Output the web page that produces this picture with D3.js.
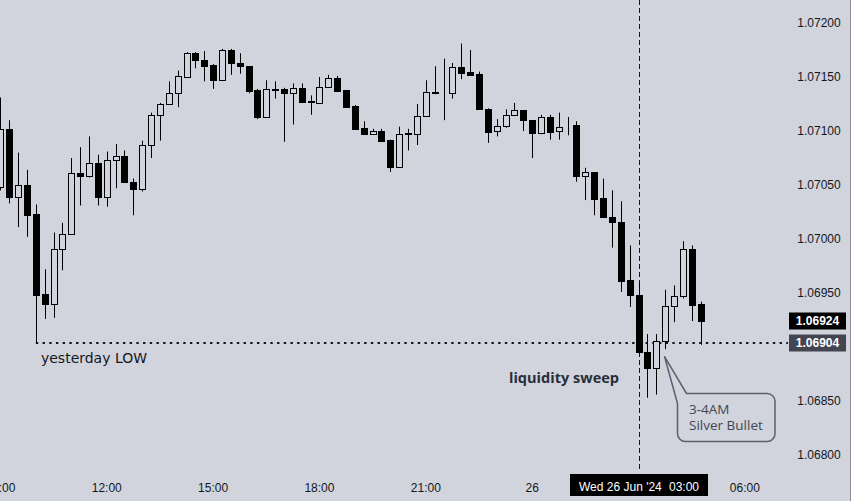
<!DOCTYPE html>
<html>
<head>
<meta charset="utf-8">
<script src="https://cdn.jsdelivr.net/npm/d3@7/dist/d3.min.js"></script>
<style>
  html, body { margin: 0; padding: 0; background: #d1d4dc; }
  svg { display: block; }
</style>
</head>
<body>
<svg id="chart" width="851" height="501"></svg>
<script>
// ---------------- DATA ----------------
// 15-minute EURUSD candles, Tue 25 Jun 2024 09:00 -> Wed 26 Jun 2024 04:45
const startTime = "2024-06-25T09:00:00Z";
const open = [
  1.07048,1.07102,1.07039,1.07050,1.07023,1.06949,1.06940,1.06991,1.07005,1.07061,
  1.07058,1.07070,1.07039,1.07073,1.07077,1.07053,1.07046,1.07087,1.07115,1.07125,
  1.07135,1.07150,1.07172,1.07166,1.07161,1.07147,1.07175,1.07163,1.07160,1.07138,
  1.07113,1.07139,1.07139,1.07135,1.07140,1.07128,1.07126,1.07141,1.07149,1.07138,
  1.07123,1.07103,1.07097,1.07100,1.07092,1.07067,1.07097,1.07097,1.07114,1.07136,
  1.07135,1.07135,1.07159,1.07155,1.07153,1.07120,1.07100,1.07105,1.07115,1.07119,
  1.07110,1.07098,1.07113,1.07100,1.07105,1.07106,1.07058,1.07062,1.07038,1.07020,
  1.07016,1.06962,1.06948,1.06895,1.06881,1.06906,1.06938,1.06947,1.06991,1.06940
];
const high = [
  1.07131,1.07110,1.07080,1.07064,1.07032,1.06972,1.07006,1.07015,1.07075,1.07085,
  1.07095,1.07078,1.07081,1.07088,1.07082,1.07056,1.07091,1.07117,1.07126,1.07146,
  1.07156,1.07173,1.07173,1.07174,1.07162,1.07176,1.07176,1.07172,1.07160,1.07139,
  1.07147,1.07146,1.07140,1.07144,1.07144,1.07133,1.07150,1.07152,1.07151,1.07138,
  1.07124,1.07109,1.07102,1.07102,1.07092,1.07104,1.07102,1.07125,1.07147,1.07160,
  1.07167,1.07163,1.07181,1.07175,1.07155,1.07121,1.07111,1.07120,1.07126,1.07119,
  1.07110,1.07115,1.07115,1.07117,1.07113,1.07109,1.07066,1.07062,1.07056,1.07045,
  1.07035,1.06994,1.06960,1.06912,1.06912,1.06953,1.06957,1.06998,1.06994,1.06942
];
const low = [
  1.07045,1.07033,1.07011,1.07002,1.06904,1.06926,1.06927,1.06971,1.07005,1.07031,
  1.07057,1.07031,1.07030,1.07047,1.07052,1.07022,1.07044,1.07075,1.07091,1.07125,
  1.07122,1.07149,1.07158,1.07146,1.07139,1.07147,1.07152,1.07153,1.07135,1.07111,
  1.07113,1.07130,1.07090,1.07106,1.07126,1.07115,1.07125,1.07141,1.07137,1.07122,
  1.07102,1.07097,1.07097,1.07090,1.07062,1.07066,1.07082,1.07087,1.07114,1.07134,
  1.07110,1.07130,1.07148,1.07152,1.07120,1.07089,1.07095,1.07103,1.07115,1.07100,
  1.07075,1.07097,1.07092,1.07092,1.07096,1.07053,1.07036,1.07022,1.07020,1.06992,
  1.06951,1.06937,1.06894,1.06853,1.06856,1.06898,1.06923,1.06945,1.06924,1.06902
];
const close = [
  1.07102,1.07039,1.07050,1.07022,1.06948,1.06940,1.06991,1.07005,1.07061,1.07058,
  1.07070,1.07039,1.07073,1.07077,1.07053,1.07046,1.07087,1.07115,1.07125,1.07135,
  1.07151,1.07172,1.07166,1.07160,1.07147,1.07175,1.07163,1.07160,1.07137,1.07113,
  1.07139,1.07138,1.07135,1.07140,1.07127,1.07127,1.07141,1.07149,1.07137,1.07122,
  1.07102,1.07097,1.07100,1.07091,1.07067,1.07097,1.07098,1.07114,1.07136,1.07135,
  1.07135,1.07159,1.07154,1.07152,1.07120,1.07099,1.07105,1.07115,1.07119,1.07110,
  1.07098,1.07113,1.07099,1.07104,1.07105,1.07058,1.07062,1.07037,1.07020,1.07016,
  1.06961,1.06948,1.06895,1.06881,1.06906,1.06938,1.06947,1.06991,1.06939,1.06924
];
const priceTicks = [1.068, 1.0685, 1.0695, 1.070, 1.0705, 1.071, 1.0715, 1.072];
const timeTicks = ["2024-06-25T09:00:00Z","2024-06-25T12:00:00Z","2024-06-25T15:00:00Z",
  "2024-06-25T18:00:00Z","2024-06-25T21:00:00Z","2024-06-26T00:00:00Z","2024-06-26T06:00:00Z"];
const crosshairTime = "2024-06-26T03:00:00Z";
const crosshairLabel = ["Wed 26 Jun '24", "03:00"];
const yesterdayLow = 1.06904;
const lastPrice = 1.06924;
const yesterdayLowLabel = "yesterday LOW";
const sweepLabel = "liquidity sweep";
const calloutLines = ["3-4AM", "Silver Bullet"];
const calloutTipTime = "2024-06-26T03:45:00Z";
const calloutTipPrice = 1.06891;

// ---------------- SETUP ----------------
const W = 851, H = 501;
const BG = "#d1d4dc", INK = "#131722";
const svg = d3.select("#chart");
svg.append("rect").attr("width", W).attr("height", H).attr("fill", BG);

const t0 = new Date(startTime);
const times = open.map((_, i) => d3.utcMinute.offset(t0, 15 * i));
const candles = times.map((t, i) => ({ t, o: open[i], h: high[i], l: low[i], c: close[i] }));

const x = d3.scaleUtc()
  .domain([t0, new Date(crosshairTime)])
  .range([0.4, 638.5]);
const y = d3.scaleLinear().domain([1.068, 1.072]).range([455, 23]);

const px = v => Math.round(v) + 0.5;

// ---------------- PRICE AXIS LABELS ----------------
const fmt = d3.format(".5f");
svg.append("g").selectAll("text").data(priceTicks).join("text")
  .attr("x", 819).attr("y", d => y(d))
  .attr("dy", "0.35em").attr("text-anchor", "middle")
  .attr("font-family", "Liberation Sans, Arial, sans-serif")
  .attr("font-size", 12).attr("fill", INK)
  .text(d => fmt(d));

// right edge border
svg.append("line").attr("x1", 850.5).attr("x2", 850.5).attr("y1", 0).attr("y2", H)
  .attr("stroke", "#8a8d96").attr("stroke-width", 1);

// ---------------- TIME AXIS LABELS ----------------
const tfmt = d => (d.getUTCHours() === 0 ? String(d.getUTCDate()) : d3.utcFormat("%H:%M")(d));
svg.append("g").selectAll("text").data(timeTicks.map(s => new Date(s))).join("text")
  .attr("x", d => x(d)).attr("y", 491.5)
  .attr("text-anchor", "middle")
  .attr("font-family", "Liberation Sans, Arial, sans-serif")
  .attr("font-size", 12).attr("fill", INK)
  .text(tfmt);

// ---------------- CROSSHAIR VERTICAL LINE ----------------
const cx = px(x(new Date(crosshairTime)));
svg.append("line").attr("x1", cx).attr("x2", cx).attr("y1", 0).attr("y2", 471)
  .attr("stroke", INK).attr("stroke-width", 1).attr("stroke-dasharray", "5,3");

// ---------------- YESTERDAY LOW DOTTED LINE ----------------
const lowIdx = low.indexOf(yesterdayLow);
const yl = y(yesterdayLow);
svg.append("line")
  .attr("x1", x(times[lowIdx])).attr("x2", 788).attr("y1", yl + 0.3).attr("y2", yl + 0.3)
  .attr("stroke", INK).attr("stroke-width", 2).attr("stroke-dasharray", "2.4,4.3");

// ---------------- CANDLES ----------------
const g = svg.append("g");
candles.forEach(d => {
  const xc = Math.round(x(d.t));
  g.append("line")
    .attr("x1", xc + 0.5).attr("x2", xc + 0.5)
    .attr("y1", y(d.h)).attr("y2", y(d.l))
    .attr("stroke", "#000").attr("stroke-width", 1);
  const top = Math.round(y(Math.max(d.o, d.c))) + 0.5;
  const bot = Math.round(y(Math.min(d.o, d.c))) + 0.5;
  g.append("rect")
    .attr("x", xc - 2.5).attr("width", 6)
    .attr("y", top).attr("height", Math.max(0, bot - top))
    .attr("fill", d.c >= d.o ? BG : "#000")
    .attr("stroke", "#000").attr("stroke-width", 1);
});

// ---------------- PRICE LABEL BOXES ----------------
function priceBox(v, fill) {
  const yy = y(v);
  svg.append("rect").attr("x", 789).attr("y", Math.round(yy) - 8.5).attr("width", 57).attr("height", 17)
    .attr("fill", fill);
  svg.append("text").attr("x", 817.5).attr("y", yy).attr("dy", "0.36em")
    .attr("text-anchor", "middle")
    .attr("font-family", "Liberation Sans, Arial, sans-serif")
    .attr("font-size", 12).attr("font-weight", "bold").attr("fill", "#fff")
    .text(fmt(v));
}
priceBox(lastPrice, "#000000");
priceBox(yesterdayLow, "#434651");

// ---------------- TEXT ANNOTATIONS ----------------
svg.append("text").attr("x", 41).attr("y", 362.5)
  .attr("font-family", "DejaVu Sans, sans-serif").attr("font-size", 14)
  .attr("fill", INK).attr("textLength", 106).attr("lengthAdjust", "spacingAndGlyphs")
  .text(yesterdayLowLabel);

svg.append("text").attr("x", 509).attr("y", 383)
  .attr("font-family", "Open Sans, sans-serif").attr("font-size", 15).attr("font-weight", 700)
  .attr("fill", "#2a2e39").attr("textLength", 110).attr("lengthAdjust", "spacingAndGlyphs")
  .text(sweepLabel);

// ---------------- CALLOUT ----------------
const tipX = x(new Date(calloutTipTime)) - 0.5, tipY = y(calloutTipPrice);
const bx0 = 677.5, bx1 = 775, by0 = 393.5, by1 = 441.5, r = 8;
const calloutPath = [
  `M${tipX},${tipY}`,
  `L${bx0 + 9},${by0}`,
  `H${bx1 - r}`,
  `A${r},${r} 0 0 1 ${bx1},${by0 + r}`,
  `V${by1 - r}`,
  `A${r},${r} 0 0 1 ${bx1 - r},${by1}`,
  `H${bx0 + r}`,
  `A${r},${r} 0 0 1 ${bx0},${by1 - r}`,
  `V${by0 + 10}`,
  "Z"
].join(" ");
svg.append("path").attr("d", calloutPath)
  .attr("fill", BG).attr("stroke", "#5d606b").attr("stroke-width", 1.5)
  .attr("stroke-linejoin", "round");
svg.append("g").selectAll("text").data(calloutLines).join("text")
  .attr("x", 689).attr("y", (d, i) => 414 + i * 16)
  .attr("font-family", "Open Sans, sans-serif").attr("font-size", 13.5)
  .attr("fill", "#434651")
  .text(d => d);

// ---------------- CROSSHAIR TIME LABEL ----------------
svg.append("rect").attr("x", 570).attr("y", 474).attr("width", 138).attr("height", 22).attr("fill", "#000");
svg.append("text").attr("x", 579).attr("y", 491)
  .attr("font-family", "Liberation Sans, Arial, sans-serif").attr("font-size", 12)
  .attr("fill", "#fff").text(crosshairLabel[0]);
svg.append("text").attr("x", 699).attr("y", 491).attr("text-anchor", "end")
  .attr("font-family", "Liberation Sans, Arial, sans-serif").attr("font-size", 12)
  .attr("fill", "#fff").text(crosshairLabel[1]);
</script>
</body>
</html>
